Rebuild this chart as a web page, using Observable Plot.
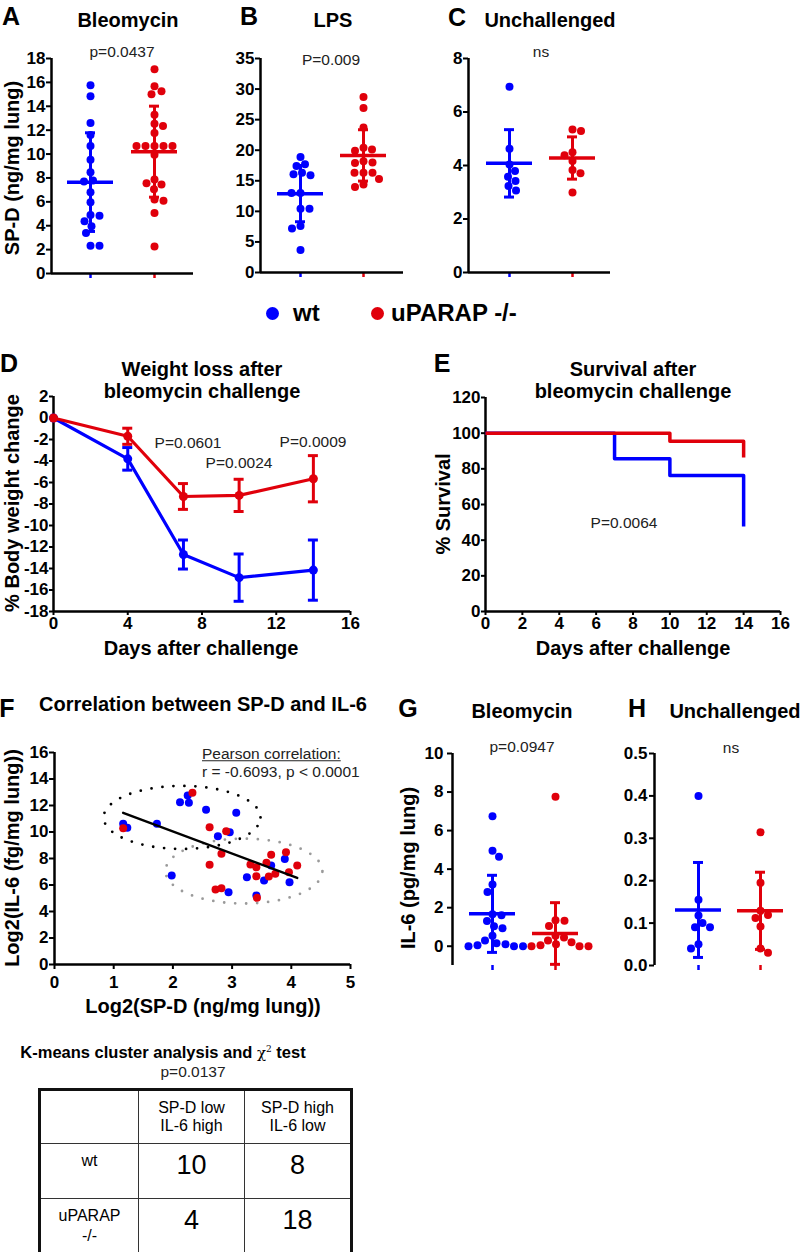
<!DOCTYPE html>
<html><head><meta charset="utf-8">
<script src="https://cdn.jsdelivr.net/npm/d3@7"></script>
<script src="https://cdn.jsdelivr.net/npm/@observablehq/plot@0.6"></script>
<style>
html,body{margin:0;padding:0;background:#fff;}
#page{position:relative;width:800px;height:1252px;overflow:hidden;background:#fff;font-family:"Liberation Sans",Arial,Helvetica,sans-serif;color:#000;}
.t{position:absolute;white-space:nowrap;line-height:1;}
.box{position:absolute;}
#page svg text{font-family:"Liberation Sans",Arial,Helvetica,sans-serif;font-size:17px;font-weight:bold;}
svg g[aria-label$="axis tick"]{stroke-width:2px;}
svg g[aria-label$="-axis"] g.tick line{stroke-width:2px;}
td{border:1.5px solid #333;vertical-align:top;padding:7px 2px 0 2px;}
</style></head><body><div id="page"></div>
<script>
// ---------------- DATA ----------------
const groupNames = ["wt", "uPARAP -/-"];
const groupColors = ["#0000ff", "#e0000b"];

// A: SP-D after bleomycin (ng/mg lung)
const spdBleoWt = [15.76,14.84,12.6,11.6,10.67,9.52,8.48,7.78,7.7,6.8,5.96,4.9,4.84,4.37,3.95,3.39,2.32,2.32];
const spdBleoKo = [17.1,15.68,15.26,15.0,13.3,12.54,12.35,11.76,10.67,10.67,10.67,10.67,10.67,9.94,7.87,7.56,7.45,7.05,6.19,6.1,5.07,2.27];
const spdBleoMean = [7.65, 10.2];
const spdBleoSd = [4.13, 3.81];
// B: SP-D after LPS
const spdLpsWt = [18.9,17.7,17.4,16.3,16.06,15.9,13.0,13.0,10.43,10.43,7.6,7.2,3.7];
const spdLpsKo = [28.7,26.9,23.7,20.4,20.1,19.9,18.2,18.0,17.9,16.3,16.3,16.3,15.3,14.4,14.0];
const spdLpsMean = [12.9, 19.15];
const spdLpsSd = [4.6, 4.2];
// C: SP-D unchallenged
const spdUnchWt = [6.94,4.63,4.04,3.79,3.58,3.42,3.23,3.07];
const spdUnchKo = [5.35,5.29,4.5,4.38,4.17,3.83,3.71,2.99];
const spdUnchMean = [4.08, 4.28];
const spdUnchSd = [1.26, 0.79];
// D: body weight change
const weightDays = [0, 4, 7, 10, 14];
const weightWt = [0, -3.8, -12.7, -14.85, -14.15];
const weightWtErr = [0, 1.05, 1.35, 2.2, 2.8];
const weightKo = [0, -1.7, -7.3, -7.2, -5.65];
const weightKoErr = [0, 0.75, 1.2, 1.5, 2.15];
// E: survival
const survDaysWt = [0, 7, 10, 14];
const survWt = [100, 85.7, 76.2, 47.6];
const survDaysKo = [0, 10, 14];
const survKo = [100, 95.5, 86.4];
// F: log2 SP-D vs log2 IL-6
const corrWtX = [1.16,1.23,1.73,2.12,2.25,2.27,2.56,3.07,2.76,2.96,1.98,3.25,3.66,3.54,3.89,3.97,3.41,2.94];
const corrWtY = [10.62,10.32,10.62,12.25,12.75,12.2,11.67,11.45,9.68,9.99,6.72,6.59,7.47,6.34,7.97,6.21,5.21,5.46];
const corrKoX = [1.16,2.33,2.62,2.90,2.82,2.62,2.72,2.82,3.31,3.41,3.41,3.58,3.66,3.62,3.73,3.91,3.96,4.10,3.42];
const corrKoY = [10.29,12.96,10.36,10.06,8.35,7.52,5.66,5.76,7.55,7.34,6.66,7.68,8.28,6.64,6.84,8.48,6.97,7.47,5.03];
const clusterCenterX = [2.155, 3.2];
const clusterCenterY = [11.1, 7.05];
const clusterRadiusX = [1.325, 1.326];
const clusterRadiusY = [2.38, 2.45];
const clusterColors = ["#000", "#9a9a9a"];
// G: IL-6 after bleomycin (pg/mg lung)
const il6BleoWt = [6.75,4.95,4.64,3.2,2.82,1.66,1.61,1.31,1.04,0.93,0.55,0.3,0.15,0.1,0.05,0,0,0];
const il6BleoKo = [7.76,1.35,1.32,1.05,0.55,0.45,0.3,0.2,0.1,0.05,0,0,0];
const il6BleoMean = [1.68, 0.66];
const il6BleoSd = [2.0, 1.6];
// H: IL-6 unchallenged
const il6UnchWt = [0.40,0.155,0.118,0.10,0.09,0.09,0.05,0.04];
const il6UnchKo = [0.314,0.195,0.129,0.119,0.112,0.092,0.04,0.03];
const il6UnchMean = [0.131, 0.129];
const il6UnchSd = [0.112, 0.091];
// Table
const tableCols = [["SP-D low","IL-6 high"], ["SP-D high","IL-6 low"]];
const tableRows = [["wt"], ["uPARAP","-/-"]];
const tableCounts = [[10, 8], [4, 18]];

// ---------------- HELPERS ----------------
const FONT = '"Liberation Sans", Arial, Helvetica, sans-serif';
const page = document.getElementById("page");

function txt(html, x, y, o = {}) {
  const d = document.createElement("div");
  d.className = "t";
  d.innerHTML = html;
  d.style.left = x + "px"; d.style.top = y + "px";
  d.style.fontSize = (o.size || 16) + "px";
  d.style.fontWeight = o.bold ? "bold" : "normal";
  d.style.color = o.color || "#000";
  const tx = o.anchor === "start" ? "0" : o.anchor === "end" ? "-100%" : "-50%";
  d.style.transform = `translate(${tx},-50%)` + (o.rotate ? " rotate(-90deg)" : "");
  page.appendChild(d);
  return d;
}

function mount(svg, left, top, w) {
  const d = document.createElement("div");
  d.className = "box";
  d.style.left = left + "px"; d.style.top = top + "px"; d.style.width = w + "px";
  d.appendChild(svg); page.appendChild(d);
}

function framed(frame, opts) {
  const [x0, x1, y0, y1] = frame;
  const mL = 60, mR = 20, mT = 20, mB = 40;
  const w = x1 - x0 + mL + mR;
  const svg = Plot.plot({
    width: w, height: y1 - y0 + mT + mB,
    marginLeft: mL, marginRight: mR, marginTop: mT, marginBottom: mB,
    style: {background: "transparent", overflow: "visible", fontFamily: FONT, fontSize: "17px", fontWeight: "bold", color: "#000"},
    ...opts,
    marks: opts.marks.filter(Boolean)
  });
  mount(svg, x0 - mL, y0 - mT, w);
  return svg;
}

function colorTicks(svg) {
  let ticks = Array.from(svg.querySelectorAll('g[aria-label="x-axis tick"] path'));
  if (!ticks.length) ticks = Array.from(svg.querySelectorAll('g[aria-label="x-axis"] g.tick line'));
  ticks.forEach((t, i) => { t.setAttribute("stroke", groupColors[i % 2]); t.style.stroke = groupColors[i % 2]; t.style.strokeWidth = "2.5px"; });
}

function swarmOffsets(values, toPx, diam) {
  const order = values.map((_, i) => i).sort((a, b) => values[b] - values[a]);
  const placed = [], out = new Array(values.length).fill(0);
  let flip = 1;
  for (const i of order) {
    const py = toPx(values[i]);
    let chosen = 0;
    for (let k = 0; k < 400; k++) {
      const c = k === 0 ? 0 : flip * (k % 2 ? 1 : -1) * Math.ceil(k / 2) * 0.5;
      if (placed.every(p => (p.x - c) ** 2 + (p.y - py) ** 2 >= diam * diam)) { chosen = c; break; }
    }
    if (chosen !== 0) flip = -Math.sign(chosen);
    out[i] = chosen; placed.push({x: chosen, y: py});
  }
  return out;
}

function scatterPanel({frame, centers, yDomain, yTicks, yFormat, series, means, sds, xLine, tickPadding = 2}) {
  const [x0, x1, y0, y1] = frame;
  const ppu = centers[1] - centers[0];
  const xDomain = [1 + (x0 - centers[0]) / ppu, 1 + (x1 - centers[0]) / ppu];
  const toPx = v => y1 - (v - yDomain[0]) / (yDomain[1] - yDomain[0]) * (y1 - y0);
  const dots = [];
  series.forEach((vals, g) => {
    const offs = swarmOffsets(vals, toPx, 8.6);
    vals.forEach((v, i) => dots.push({group: groupNames[g], x: g + 1 + offs[i] / ppu, v}));
  });
  const stats = means.map((m, g) => ({group: groupNames[g], c: g + 1, m, lo: m - sds[g], hi: m + sds[g]}));
  const hw = 23 / ppu, cw = 5 / ppu;
  const caps = stats.flatMap(s => [{...s, y: s.lo}, {...s, y: s.hi}]);
  const svg = framed(frame, {
    x: {domain: xDomain, ticks: [1, 2], tickFormat: () => "", tickSize: 5, label: null},
    y: {domain: yDomain, ticks: yTicks, tickFormat: yFormat, tickSize: 5, tickPadding, label: null},
    color: {domain: groupNames, range: groupColors},
    marks: [
      Plot.ruleX([xDomain[0]], {strokeWidth: 2.5}),
      xLine ? Plot.ruleY([yDomain[0]], {strokeWidth: 2.5}) : null,
      Plot.dot(dots, {x: "x", y: "v", r: 4, fill: "group"}),
      Plot.ruleX(stats, {x: "c", y1: "lo", y2: "hi", stroke: "group", strokeWidth: 3}),
      Plot.ruleY(caps, {y: "y", x1: d => d.c - cw, x2: d => d.c + cw, stroke: "group", strokeWidth: 3}),
      Plot.ruleY(stats, {y: "m", x1: d => d.c - hw, x2: d => d.c + hw, stroke: "group", strokeWidth: 3.5})
    ]
  });
  colorTicks(svg);
}

const num = d => String(d);

// ---------------- PANELS A-C ----------------
scatterPanel({frame: [51, 193, 58, 273], centers: [90, 154], yDomain: [0, 18], yTicks: d3.range(0, 19, 2), yFormat: num,
  series: [spdBleoWt, spdBleoKo], means: spdBleoMean, sds: spdBleoSd, xLine: true, tickPadding: 1});
scatterPanel({frame: [260, 403, 58, 272], centers: [300, 363], yDomain: [0, 35], yTicks: d3.range(0, 36, 5), yFormat: num,
  series: [spdLpsWt, spdLpsKo], means: spdLpsMean, sds: spdLpsSd, xLine: true, tickPadding: 1});
scatterPanel({frame: [468, 610, 58, 272], centers: [509, 572], yDomain: [0, 8], yTicks: d3.range(0, 9, 2), yFormat: num,
  series: [spdUnchWt, spdUnchKo], means: spdUnchMean, sds: spdUnchSd, xLine: true, tickPadding: 1});

// ---------------- PANEL D ----------------
{
  const rows = (vals, errs, g) => weightDays.map((d, i) => ({group: groupNames[g], day: d, v: vals[i], lo: vals[i] - errs[i], hi: vals[i] + errs[i], e: errs[i]}));
  const cw = 5 / (297 / 16);
  const layer = r => [
    Plot.line(r, {x: "day", y: "v", stroke: "group", strokeWidth: 3.2}),
    Plot.ruleX(r.filter(d => d.e > 0), {x: "day", y1: "lo", y2: "hi", stroke: "group", strokeWidth: 3}),
    Plot.ruleY(r.filter(d => d.e > 0).flatMap(d => [{...d, y: d.lo}, {...d, y: d.hi}]), {y: "y", x1: d => d.day - cw, x2: d => d.day + cw, stroke: "group", strokeWidth: 3}),
    Plot.dot(r, {x: "day", y: "v", r: 4.5, fill: "group"})
  ];
  framed([53, 350, 396, 611], {
    x: {domain: [0, 16], ticks: [0, 4, 8, 12, 16], tickFormat: num, tickSize: 4, tickPadding: 1, label: null},
    y: {domain: [-18, 2], ticks: d3.range(-18, 3, 2), tickFormat: num, tickSize: 4, tickPadding: 1, label: null},
    color: {domain: groupNames, range: groupColors},
    marks: [
      Plot.ruleX([0], {strokeWidth: 2.5}),
      Plot.ruleY([-18], {strokeWidth: 2.5}),
      ...layer(rows(weightWt, weightWtErr, 0)),
      ...layer(rows(weightKo, weightKoErr, 1))
    ]
  });
}

// ---------------- PANEL E ----------------
framed([485, 780, 397, 611], {
  x: {domain: [0, 16], ticks: d3.range(0, 17, 2), tickFormat: num, tickSize: 4, tickPadding: 1, label: null},
  y: {domain: [0, 120], ticks: d3.range(0, 121, 20), tickFormat: num, tickSize: 4, tickPadding: 1, label: null},
  color: {domain: groupNames, range: groupColors},
  marks: [
    Plot.ruleX([0], {strokeWidth: 2.5}),
    Plot.ruleY([0], {strokeWidth: 2.5}),
    Plot.line(survDaysWt.map((d, i) => ({group: groupNames[0], d, s: survWt[i]})), {x: "d", y: "s", stroke: "group", strokeWidth: 3.5, curve: "step-after", strokeLinecap: "butt"}),
    Plot.line(survDaysKo.map((d, i) => ({group: groupNames[1], d, s: survKo[i]})), {x: "d", y: "s", stroke: "group", strokeWidth: 3.5, curve: "step-after", strokeLinecap: "butt"})
  ]
});

// ---------------- PANEL F ----------------
{
  const pts = [
    ...corrWtX.map((x, i) => ({group: groupNames[0], x, y: corrWtY[i]})),
    ...corrKoX.map((x, i) => ({group: groupNames[1], x, y: corrKoY[i]}))
  ];
  const ell = clusterCenterX.map((cx, k) => d3.range(0, 97).map(j => {
    const t = j / 96 * 2 * Math.PI;
    return {x: cx + clusterRadiusX[k] * Math.cos(t), y: clusterCenterY[k] + clusterRadiusY[k] * Math.sin(t)};
  }));
  framed([54, 350, 752, 964], {
    x: {domain: [0, 5], ticks: d3.range(0, 6), tickFormat: num, tickSize: 5, tickPadding: 6, label: null},
    y: {domain: [0, 16], ticks: d3.range(0, 17, 2), tickFormat: num, tickSize: 5, tickPadding: 1, label: null},
    color: {domain: groupNames, range: groupColors},
    marks: [
      Plot.ruleX([0], {strokeWidth: 2.5}),
      Plot.ruleY([0], {strokeWidth: 2.5}),
      ...ell.map((e, k) => Plot.line(e, {x: "x", y: "y", stroke: clusterColors[k], strokeWidth: 2.8, strokeDasharray: "0,11", strokeLinecap: "round"})),
      Plot.dot(pts.filter(d => d.group === groupNames[0]), {x: "x", y: "y", r: 4, fill: "group"}),
      Plot.dot(pts.filter(d => d.group === groupNames[1]), {x: "x", y: "y", r: 4, fill: "group"}),
      Plot.linearRegressionY(pts, {x: "x", y: "y", stroke: "#000", strokeWidth: 2.5, ci: 0})
    ]
  });
}

// ---------------- PANELS G-H ----------------
scatterPanel({frame: [452, 600, 753, 965], centers: [492, 555], yDomain: [-1, 10], yTicks: d3.range(0, 11, 2), yFormat: num,
  series: [il6BleoWt, il6BleoKo], means: il6BleoMean, sds: il6BleoSd, xLine: false, tickPadding: 4});
scatterPanel({frame: [654, 795, 753, 965], centers: [698, 760], yDomain: [0, 0.5], yTicks: [0, 0.1, 0.2, 0.3, 0.4, 0.5], yFormat: d3.format(".1f"),
  series: [il6UnchWt, il6UnchKo], means: il6UnchMean, sds: il6UnchSd, xLine: false, tickPadding: 2});

// ---------------- TEXT ----------------
const L = {size: 25, bold: true};
[["A",11,16],["B",249,16],["C",457,17],["D",9,363],["E",442,363],["F",7,708],["G",408,708],["H",637,708]]
  .forEach(([s, x, y]) => txt(s, x, y, L));
const T = {size: 20, bold: true};
txt("Bleomycin", 128, 20, T);
txt("LPS", 333, 20, T);
txt("Unchallenged", 550, 20, T);
txt("Weight loss after", 202, 369, T);
txt("bleomycin challenge", 202, 391, T);
txt("Survival after", 633, 369, T);
txt("bleomycin challenge", 633, 391, T);
txt("Correlation between SP-D and IL-6", 203, 704, T);
txt("Bleomycin", 522, 711, T);
txt("Unchallenged", 735, 711, T);
const P = {size: 15.5, color: "#222"};
txt("p=0.0437", 122, 52, P);
txt("P=0.009", 331, 60, P);
txt("ns", 541, 52, P);
txt("P=0.0601", 188, 443, P);
txt("P=0.0024", 239, 463, P);
txt("P=0.0009", 313, 442, P);
txt("P=0.0064", 624, 523, P);
txt("p=0.0947", 522, 747, P);
txt("ns", 731, 748, P);
txt('<span style="text-decoration:underline">Pearson correlation:</span>', 202, 754, {...P, anchor: "start"});
txt("r = -0.6093, p &lt; 0.0001", 202, 772, {...P, anchor: "start"});
const AX = {size: 20, bold: true};
txt("SP-D (ng/mg lung)", 12, 168, {...AX, rotate: true});
txt("% Body weight change", 12, 503, {...AX, rotate: true});
txt("% Survival", 443, 504, {...AX, rotate: true});
txt("Log2(IL-6 (fg/mg lung))", 12, 858, {...AX, rotate: true});
txt("IL-6 (pg/mg lung)", 408, 868, {...AX, rotate: true});
txt("Days after challenge", 201, 648, AX);
txt("Days after challenge", 633, 648, AX);
txt("Log2(SP-D (ng/mg lung))", 203, 1006, AX);

// legend
[[272, 293, 0], [377, 391, 1]].forEach(([cx, tx, g]) => {
  const c = document.createElement("div");
  c.style.cssText = `position:absolute;left:${cx - 6.5}px;top:${313 - 6.5}px;width:13px;height:13px;border-radius:50%;background:${groupColors[g]};`;
  page.appendChild(c);
  txt(groupNames[g], tx, 313, {size: 24, bold: true, anchor: "start"});
});

// table
txt('K-means cluster analysis and <span style="font-family:\'DejaVu Serif\',\'Liberation Serif\',serif;font-weight:normal;font-size:15px">&chi;<sup style="font-size:9px">2</sup></span> test', 163, 1052, {size: 16.5, bold: true});
txt("p=0.0137", 193, 1072, P);
{
  const table = document.createElement("table");
  table.style.cssText = "position:absolute;left:38px;top:1088px;border-collapse:collapse;border:3px solid #111;text-align:center;table-layout:fixed;";
  const cg = document.createElement("colgroup");
  [99, 106, 107].forEach(w => { const c = document.createElement("col"); c.style.width = w + "px"; cg.appendChild(c); });
  table.appendChild(cg);
  const hr = document.createElement("tr"); hr.style.height = "54px";
  hr.appendChild(document.createElement("td"));
  tableCols.forEach(lines => {
    const td = document.createElement("td");
    td.style.cssText = "font-size:16px;line-height:18px;padding-top:8px;";
    td.innerHTML = lines.join("<br>");
    hr.appendChild(td);
  });
  table.appendChild(hr);
  tableRows.forEach((lines, r) => {
    const tr = document.createElement("tr"); tr.style.height = "55px";
    const th = document.createElement("td");
    th.style.cssText = "font-size:16px;line-height:20px;padding-top:7px;";
    th.innerHTML = lines.join("<br>");
    tr.appendChild(th);
    tableCounts[r].forEach(v => {
      const td = document.createElement("td");
      td.style.cssText = "font-size:27px;line-height:30px;padding-top:6px;";
      td.textContent = v;
      tr.appendChild(td);
    });
    table.appendChild(tr);
  });
  page.appendChild(table);
}
</script></body></html>
